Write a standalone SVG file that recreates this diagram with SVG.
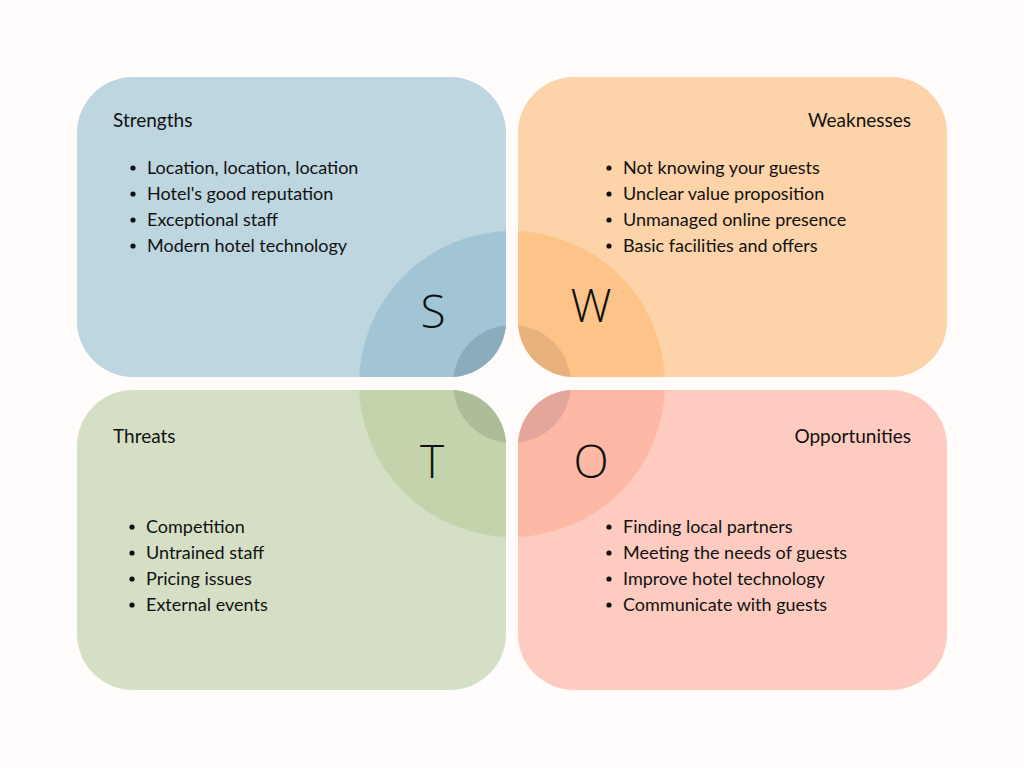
<svg xmlns="http://www.w3.org/2000/svg" width="1024" height="768" viewBox="0 0 1024 768">
<style>
text{font-family:"Lato","Noto Sans",sans-serif;fill:#111}
.h{font-size:19px}
.b{font-size:18px}
.l{font-size:46px;font-weight:300;font-family:"Open Sans",sans-serif}
</style>
<defs>
<clipPath id="cS"><rect x="77" y="77" width="429" height="300" rx="56"/></clipPath>
<clipPath id="cW"><rect x="518" y="77" width="429" height="300" rx="56"/></clipPath>
<clipPath id="cT"><rect x="77" y="390" width="429" height="300" rx="56"/></clipPath>
<clipPath id="cO"><rect x="518" y="390" width="429" height="300" rx="56"/></clipPath>
</defs>
<rect width="1024" height="768" fill="#fffcfb"/>
<g id="strengths">
<rect x="77" y="77" width="429" height="300" rx="56" fill="#bed6e0"/>
<g clip-path="url(#cS)"><circle cx="512" cy="384" r="153" fill="#a1c5d5"/><circle cx="512" cy="384" r="59" fill="#8aacbc"/></g>
<text class="h" x="113" y="127">Strengths</text>
<text class="b" x="147" y="174">Location, location, location</text>
<text class="b" x="147" y="200">Hotel's good reputation</text>
<text class="b" x="147" y="226">Exceptional staff</text>
<text class="b" x="147" y="252">Modern hotel technology</text>
<g fill="#111"><circle cx="133" cy="168" r="2.6"/><circle cx="133" cy="194" r="2.6"/><circle cx="133" cy="220" r="2.6"/><circle cx="133" cy="246" r="2.6"/></g>
<text class="l" x="433" y="328" text-anchor="middle">S</text>
</g>
<g id="weaknesses">
<rect x="518" y="77" width="429" height="300" rx="56" fill="#fdd3a9"/>
<g clip-path="url(#cW)"><circle cx="512" cy="384" r="153" fill="#fdc48a"/><circle cx="512" cy="384" r="59" fill="#e8b07c"/></g>
<text class="h" x="911" y="127" text-anchor="end">Weaknesses</text>
<text class="b" x="623" y="174">Not knowing your guests</text>
<text class="b" x="623" y="200">Unclear value proposition</text>
<text class="b" x="623" y="226">Unmanaged online presence</text>
<text class="b" x="623" y="252">Basic facilities and offers</text>
<g fill="#111"><circle cx="609" cy="168" r="2.6"/><circle cx="609" cy="194" r="2.6"/><circle cx="609" cy="220" r="2.6"/><circle cx="609" cy="246" r="2.6"/></g>
<text class="l" x="591" y="322" text-anchor="middle">W</text>
</g>
<g id="threats">
<rect x="77" y="390" width="429" height="300" rx="56" fill="#d4dfc5"/>
<g clip-path="url(#cT)"><circle cx="512" cy="384" r="153" fill="#c3d3ab"/><circle cx="512" cy="384" r="59" fill="#acbd98"/></g>
<text class="h" x="113" y="443">Threats</text>
<text class="b" x="146" y="533">Competition</text>
<text class="b" x="146" y="559">Untrained staff</text>
<text class="b" x="146" y="585">Pricing issues</text>
<text class="b" x="146" y="611">External events</text>
<g fill="#111"><circle cx="132" cy="527" r="2.6"/><circle cx="132" cy="553" r="2.6"/><circle cx="132" cy="579" r="2.6"/><circle cx="132" cy="605" r="2.6"/></g>
<text class="l" x="432" y="478" text-anchor="middle">T</text>
</g>
<g id="opportunities">
<rect x="518" y="390" width="429" height="300" rx="56" fill="#fdcbbf"/>
<g clip-path="url(#cO)"><circle cx="512" cy="384" r="153" fill="#fdb8a6"/><circle cx="512" cy="384" r="59" fill="#e4a69a"/></g>
<text class="h" x="911" y="443" text-anchor="end">Opportunities</text>
<text class="b" x="623" y="533">Finding local partners</text>
<text class="b" x="623" y="559">Meeting the needs of guests</text>
<text class="b" x="623" y="585">Improve hotel technology</text>
<text class="b" x="623" y="611">Communicate with guests</text>
<g fill="#111"><circle cx="609" cy="527" r="2.6"/><circle cx="609" cy="553" r="2.6"/><circle cx="609" cy="579" r="2.6"/><circle cx="609" cy="605" r="2.6"/></g>
<text class="l" x="591" y="478" text-anchor="middle">O</text>
</g>
<g id="connectors"/>
</svg>
